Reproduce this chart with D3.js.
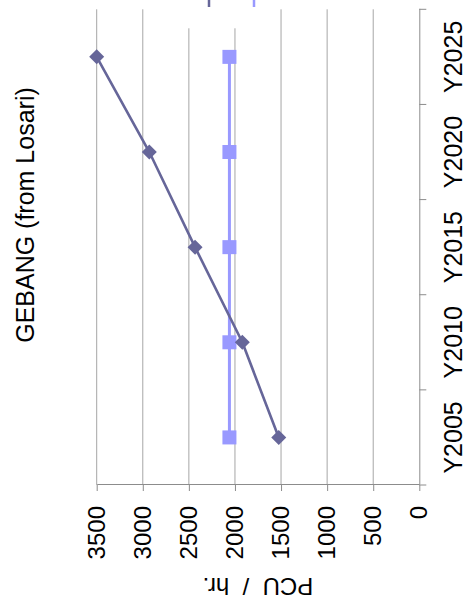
<!DOCTYPE html>
<html>
<head>
<meta charset="utf-8">
<script src="https://cdn.jsdelivr.net/npm/d3@7/dist/d3.min.js"></script>
<style>
  html, body { margin: 0; padding: 0; background: #fff; }
  svg { display: block; font-family: "Liberation Sans", Arial, sans-serif; }
</style>
</head>
<body>
<svg id="chart" width="468" height="608"></svg>
<script>
// Traffic volume forecast per year
const categories = ["Y2005", "Y2010", "Y2015", "Y2020", "Y2025"];
const seriesNames = ["Series1", "Series2"];
const growthValues = [1525, 1920, 2433, 2929, 3500];
const baseValues = [2060, 2060, 2060, 2060, 2060];
const valueTicks = [0, 500, 1000, 1500, 2000, 2500, 3000, 3500];
const titleText = "GEBANG (from Losari)";
const valueAxisTitle = "PCU / hr.";

const PAGE_W = 468, PAGE_H = 608;
// The chart is laid out landscape (PAGE_H wide, PAGE_W tall) and turned a quarter turn.
const plot = { left: 123, right: 598.7, top: 96.7, bottom: 419.3 };

const svg = d3.select("#chart");
const root = svg.append("g")
  .attr("transform", `translate(0,${PAGE_H}) rotate(-90)`);

const x = d3.scaleBand().domain(categories).range([plot.left, plot.right]).padding(0);
const y = d3.scaleLinear().domain([0, 3500]).range([plot.bottom, plot.top]);

const gridColor = "#a6a6a6";
const axisColor = "#8c8c8c";

// horizontal gridlines
root.append("g").selectAll("line")
  .data(valueTicks.filter(v => v > 0))
  .join("line")
  .attr("x1", plot.left).attr("x2", plot.right)
  .attr("y1", d => y(d)).attr("y2", d => y(d))
  .attr("stroke", gridColor).attr("stroke-width", 1);

// legend panel; only the start of its key lines falls inside the page
const legend = root.append("g");
legend.append("rect")
  .attr("x", 579.7).attr("y", 172).attr("width", 40).attr("height", 98)
  .attr("fill", "#fff");
const legendColors = ["#666699", "#9999ff"];
legend.selectAll("line.key")
  .data(seriesNames)
  .join("line")
  .attr("class", "key")
  .attr("x1", 601).attr("x2", 620)
  .attr("y1", (d, i) => 209 + i * 45).attr("y2", (d, i) => 209 + i * 45)
  .attr("stroke", (d, i) => legendColors[i]).attr("stroke-width", 2.5);

// value axis (left in layout)
const yAxis = root.append("g")
  .attr("transform", `translate(${plot.left},0)`)
  .call(d3.axisLeft(y).tickValues(valueTicks).tickFormat(d3.format("d"))
    .tickSize(6).tickSizeOuter(0).tickPadding(15));
yAxis.select(".domain").attr("stroke", axisColor);
yAxis.selectAll(".tick line").attr("stroke", axisColor);
yAxis.selectAll(".tick text").attr("font-size", 24).attr("fill", "#000")
  .attr("font-family", "Liberation Sans, Arial, sans-serif");

// category axis (bottom in layout), ticks on band boundaries
const xAxis = root.append("g")
  .attr("transform", `translate(0,${plot.bottom})`)
  .call(d3.axisBottom(x).tickSize(0).tickSizeOuter(0));
xAxis.select(".domain").attr("stroke", axisColor);
xAxis.selectAll(".tick text")
  .attr("y", 42.5).attr("dy", "0")
  .attr("font-size", 25).attr("fill", "#000")
  .attr("font-family", "Liberation Sans, Arial, sans-serif");
const bounds = categories.map(c => x(c)).concat([x(categories[categories.length - 1]) + x.bandwidth()]);
xAxis.append("g").selectAll("line")
  .data(bounds)
  .join("line")
  .attr("x1", d => d).attr("x2", d => d)
  .attr("y1", 0).attr("y2", 7)
  .attr("stroke", axisColor);

// series lines
const lineGen = d3.line()
  .x((d, i) => x(categories[i]) + x.bandwidth() / 2)
  .y(d => y(d));

root.append("path")
  .datum(baseValues)
  .attr("d", lineGen)
  .attr("fill", "none").attr("stroke", "#9999ff").attr("stroke-width", 3);

root.append("path")
  .datum(growthValues)
  .attr("d", lineGen)
  .attr("fill", "none").attr("stroke", "#666699").attr("stroke-width", 2.6);

// square markers
const sq = 14;
root.append("g").selectAll("rect")
  .data(baseValues)
  .join("rect")
  .attr("x", (d, i) => x(categories[i]) + x.bandwidth() / 2 - sq / 2)
  .attr("y", d => y(d) - sq / 2)
  .attr("width", sq).attr("height", sq)
  .attr("fill", "#9999ff");

// diamond markers
const dia = 7.5;
root.append("g").selectAll("path")
  .data(growthValues)
  .join("path")
  .attr("transform", (d, i) => `translate(${x(categories[i]) + x.bandwidth() / 2},${y(d)})`)
  .attr("d", `M0,${-dia}L${dia},0L0,${dia}L${-dia},0Z`)
  .attr("fill", "#666699");

// chart title
root.append("text")
  .attr("x", 393).attr("y", 33.5)
  .attr("text-anchor", "middle")
  .attr("font-size", 25)
  .text(titleText);

// value axis title
root.append("text")
  .attr("transform", `translate(30,${(plot.top + plot.bottom) / 2}) rotate(-90)`)
  .attr("text-anchor", "middle")
  .attr("font-size", 24)
  .style("white-space", "pre")
  .text(valueAxisTitle.replace(" / ", "  /  "));
</script>
</body>
</html>
